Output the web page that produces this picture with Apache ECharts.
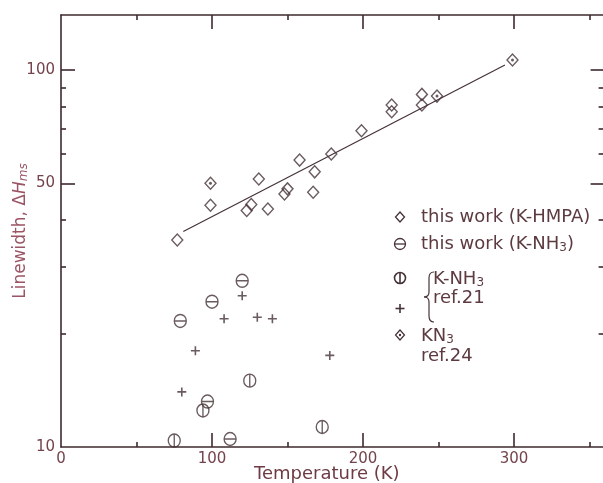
<!DOCTYPE html>
<html>
<head>
<meta charset="utf-8">
<script src="https://cdn.jsdelivr.net/npm/echarts@6/dist/echarts.min.js"></script>
<style>
html, body { margin: 0; padding: 0; background: #fff; }
#chart { width: 603px; height: 483px; }
</style>
</head>
<body>
<div id="chart"></div>
<script>
// K-HMPA, this work (open diamonds)
var hmpaT = [77, 99, 123, 126, 131, 137, 148, 150, 158, 167, 168, 179, 199, 219, 219, 239, 239];
var hmpaW = [35.4, 43.8, 42.4, 44.0, 51.4, 42.8, 46.9, 48.4, 57.7, 47.4, 53.7, 59.9, 69.0, 77.5, 80.8, 80.8, 86.2];
// K-NH3, this work (circle with horizontal bar)
var nh3T = [79, 97, 100, 112, 120];
var nh3W = [21.6, 13.2, 24.3, 10.5, 27.6];
// K-NH3 ref.21 (circle with vertical bar)
var ref21cT = [75, 94, 125, 173];
var ref21cW = [10.4, 12.5, 15.0, 11.3];
// K-NH3 ref.21 (plus)
var ref21pT = [80, 89, 108, 120, 130, 140, 178];
var ref21pW = [14.0, 18.0, 21.9, 25.2, 22.1, 21.9, 17.5];
// KN3 ref.24 (dotted diamond)
var kn3T = [99, 249, 299];
var kn3W = [50.1, 85.3, 106.3];
// fitted line
var fitT = [81, 294];
var fitW = [37.3, 103.1];

var xMajor = [0, 100, 200, 300];
var xMinor = [50, 150, 250, 350];
var yLabels = [10, 50, 100];
var yMajor = [50, 100];
var yMinor = [20, 30, 40, 60, 70, 80, 90];

var ink = '#453236';
var axisInk = '#3e2a2e';
var labelInk = '#74434b';
var font = 'DejaVu Sans';

function pairs(xs, ys) {
	var out = [];
	for (var i = 0; i < xs.length; i++) {
		out.push([xs[i], ys[i]]);
	}
	return out;
}

var thetaPath = 'path://M0,10A10,10,0,1,1,20,10A10,10,0,1,1,0,10ZM0,10L20,10';
var phiPath = 'path://M0,10A10,10,0,1,1,20,10A10,10,0,1,1,0,10ZM10,0L10,20';
var plusPath = 'path://M10,0L10,20M0,10L20,10';

function openStyle(w) {
	return { color: 'rgba(0,0,0,0)', borderColor: ink, borderWidth: w };
}

function xAx(pos, ticks, len, showLine, showLabel) {
	return {
		type: 'value', position: pos, min: 0, max: 360, gridIndex: 0,
		axisLine: { show: showLine, onZero: false, lineStyle: { color: axisInk, width: 1.6 } },
		axisTick: { show: true, inside: true, length: len, customValues: ticks,
			lineStyle: { color: axisInk, width: 1.6 } },
		axisLabel: { show: showLabel, customValues: xMajor, margin: 5, color: labelInk,
			fontFamily: font, fontSize: 15 },
		splitLine: { show: false }
	};
}

function yAx(pos, ticks, len, showLine, showLabel) {
	return {
		type: 'log', logBase: 10, position: pos, min: 10, max: 140, gridIndex: 0,
		axisLine: { show: showLine, onZero: false, lineStyle: { color: axisInk, width: 1.6 } },
		axisTick: { show: true, inside: true, length: len, customValues: ticks,
			lineStyle: { color: axisInk, width: 1.6 } },
		axisLabel: { show: showLabel, customValues: yLabels, margin: 6, color: labelInk,
			fontFamily: font, fontSize: 15 },
		splitLine: { show: false },
		minorTick: { show: false }
	};
}

var xMain = xAx('bottom', [100, 200, 300], 14, true, true);
xMain.name = 'Temperature (K)';
xMain.nameLocation = 'middle';
xMain.nameGap = 18;
xMain.nameMoveOverlap = false;
xMain.nameTextStyle = { color: '#6e3b44', fontFamily: font, fontSize: 18, padding: [0, 12, 0, 0] };

var yMain = yAx('left', yMajor, 14, true, true);
yMain.name = '{n|Linewidth, Δ}{i|H}{s|ms}';
yMain.nameLocation = 'middle';
yMain.nameGap = 31;
yMain.nameMoveOverlap = false;
yMain.nameTextStyle = {
	color: '#9a5464', fontFamily: font, fontSize: 17,
	rich: {
		n: { color: '#9a5464', fontFamily: font, fontSize: 17 },
		i: { color: '#9a5464', fontFamily: font, fontSize: 17, fontStyle: 'italic' },
		s: { color: '#9a5464', fontFamily: font, fontSize: 12, fontStyle: 'italic', verticalAlign: 'bottom', padding: [6, 0, 0, 0] }
	}
};

var option = {
	animation: false,
	backgroundColor: '#fff',
	grid: { left: 61, right: -1.6, top: 15, bottom: 36, containLabel: false, outerBoundsMode: 'none' },
	xAxis: [
		xMain,
		xAx('bottom', xMinor, 5, false, false),
		xAx('top', [100, 200, 300], 14, true, false),
		xAx('top', xMinor, 5, false, false)
	],
	yAxis: [
		yMain,
		yAx('left', yMinor, 5, false, false),
		yAx('right', yMajor, 14, false, false),
		yAx('right', yMinor, 6, false, false)
	],
	series: [{
		name: 'fit', type: 'line', data: pairs(fitT, fitW), showSymbol: false,
		lineStyle: { color: ink, width: 1.2 }, silent: true
	}, {
		name: 'this work (K-HMPA)', type: 'scatter', data: pairs(hmpaT, hmpaW),
		symbol: 'diamond', symbolSize: [11, 12], itemStyle: openStyle(1.4)
	}, {
		name: 'KN3 ref.24', type: 'scatter', data: pairs(kn3T, kn3W),
		symbol: 'diamond', symbolSize: [11, 12], itemStyle: openStyle(1.4)
	}, {
		name: 'KN3 ref.24 dot', type: 'scatter', data: pairs(kn3T, kn3W),
		symbol: 'circle', symbolSize: 3, itemStyle: { color: ink }
	}, {
		name: 'this work (K-NH3)', type: 'scatter', data: pairs(nh3T, nh3W),
		symbol: thetaPath, symbolSize: [12, 13], itemStyle: openStyle(1.4)
	}, {
		name: 'K-NH3 ref.21 circle', type: 'scatter', data: pairs(ref21cT, ref21cW),
		symbol: phiPath, symbolSize: [12, 13], itemStyle: openStyle(1.4)
	}, {
		name: 'K-NH3 ref.21 plus', type: 'scatter', data: pairs(ref21pT, ref21pW),
		symbol: plusPath, symbolSize: 9, itemStyle: openStyle(1.6)
	}],
	graphic: [
		// legend symbols
		{ type: 'polygon', shape: { points: [[400, 212], [404.5, 217], [400, 222], [395.5, 217]] },
			style: { fill: 'none', stroke: ink, lineWidth: 1.3 } },
		{ type: 'circle', shape: { cx: 400, cy: 244, r: 5.5 }, style: { fill: 'none', stroke: ink, lineWidth: 1.3 } },
		{ type: 'line', shape: { x1: 394.5, y1: 244, x2: 405.5, y2: 244 }, style: { stroke: ink, lineWidth: 1.3 } },
		{ type: 'circle', shape: { cx: 400, cy: 278, r: 5.5 }, style: { fill: 'none', stroke: ink, lineWidth: 1.6 } },
		{ type: 'line', shape: { x1: 400, y1: 272.5, x2: 400, y2: 283.5 }, style: { stroke: ink, lineWidth: 1.6 } },
		{ type: 'line', shape: { x1: 400, y1: 304, x2: 400, y2: 313 }, style: { stroke: ink, lineWidth: 1.6 } },
		{ type: 'line', shape: { x1: 395.5, y1: 308.5, x2: 404.5, y2: 308.5 }, style: { stroke: ink, lineWidth: 1.6 } },
		{ type: 'polygon', shape: { points: [[400, 330], [404.5, 335], [400, 340], [395.5, 335]] },
			style: { fill: 'none', stroke: ink, lineWidth: 1.2 } },
		{ type: 'circle', shape: { cx: 400, cy: 335, r: 1.2 }, style: { fill: ink } },
		// brace
		{ type: 'bezierCurve', shape: { x1: 434, y1: 272, x2: 429, y2: 278, cpx1: 429, cpy1: 272 }, style: { fill: 'none', stroke: ink, lineWidth: 1.2 } },
		{ type: 'line', shape: { x1: 429, y1: 278, x2: 429, y2: 292 }, style: { stroke: ink, lineWidth: 1.2 } },
		{ type: 'bezierCurve', shape: { x1: 429, y1: 292, x2: 424, y2: 297, cpx1: 429, cpy1: 297 }, style: { fill: 'none', stroke: ink, lineWidth: 1.2 } },
		{ type: 'bezierCurve', shape: { x1: 424, y1: 297, x2: 429, y2: 302, cpx1: 429, cpy1: 297 }, style: { fill: 'none', stroke: ink, lineWidth: 1.2 } },
		{ type: 'line', shape: { x1: 429, y1: 302, x2: 429, y2: 316 }, style: { stroke: ink, lineWidth: 1.2 } },
		{ type: 'bezierCurve', shape: { x1: 429, y1: 316, x2: 434, y2: 322, cpx1: 429, cpy1: 322 }, style: { fill: 'none', stroke: ink, lineWidth: 1.2 } },
		// legend texts
		legendText(421, 217, '{n|this work (K-HMPA)}'),
		legendText(421, 244, '{n|this work (K-NH}{s|3}{n|)}'),
		legendText(433, 279, '{n|K-NH}{s|3}'),
		legendText(433, 298, '{n|ref.21}'),
		legendText(421, 336, '{n|KN}{s|3}'),
		legendText(421, 356, '{n|ref.24}')
	]
};

function legendText(x, y, txt) {
	return {
		type: 'text', x: x, y: y,
		style: {
			text: txt, verticalAlign: 'middle', align: 'left',
			rich: {
				n: { fill: '#5c3a40', fontFamily: font, fontSize: 18 },
				s: { fill: '#5c3a40', fontFamily: font, fontSize: 12, verticalAlign: 'bottom', padding: [7, 0, 0, 0] }
			}
		}
	};
}

var chart = echarts.init(document.getElementById('chart'), null, { renderer: 'canvas' });
chart.setOption(option);
</script>
</body>
</html>
